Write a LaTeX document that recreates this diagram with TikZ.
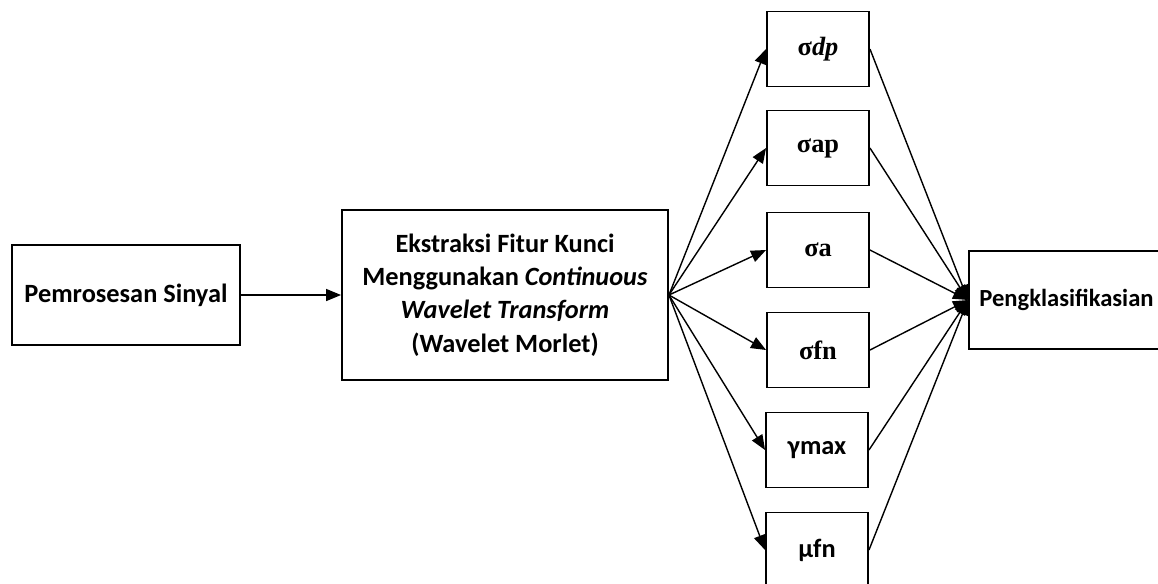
\documentclass[tikz,border=0pt]{standalone}
\usepackage{fontspec}
\setmainfont{Carlito}
\newfontfamily\greekfont{Liberation Serif}
\usetikzlibrary{arrows.meta}

\begin{document}
\begin{tikzpicture}[x = 0.02cm, y = -0.02cm,
        box/.style = {draw, black, line width = 1.1pt, inner sep = 0pt, font = \bfseries\fontsize{15}{19}\selectfont},
        featbox/.style = {box, minimum width = 2.04cm, minimum height = 1.5cm},
        link/.style = {black, line width = 0.8pt, -{Triangle[length = 0.3cm, width = 0.24cm]}}]

        \useasboundingbox (0, 0) rectangle (1158, 583);
        \clip (0, 0) rectangle (1158, 583);

        % main blocks
        \node[box, minimum width = 4.56cm, minimum height = 2cm] (sinyal) at (126, 295) {Pemrosesan Sinyal};
        \node[box, minimum width = 6.52cm, minimum height = 3.4cm, align = center] (cwt) at (505, 295)
            {Ekstraksi Fitur Kunci\\Menggunakan \textit{Continuous}\\\textit{Wavelet Transform}\\(Wavelet Morlet)};
        \node[box, font = \bfseries\fontsize{14}{17}\selectfont, minimum width = 3.9cm, minimum height = 1.95cm, anchor = west] (kelas) at (968, 300) {Pengklasifikasian};

        % feature blocks
        \node[featbox] (sdp) at (818, 49) {\greekfont σ\textit{dp}};
        \node[featbox] (sap) at (818, 148) {\greekfont σap};
        \node[featbox] (sa) at (818, 250) {\greekfont σa};
        \node[featbox] (sfn) at (818, 350) {\greekfont σfn};
        \node[featbox] (gmax) at (817, 450) {γmax};
        \node[featbox] (mfn) at (817, 550) {µfn};

        \draw[link] (sinyal) -- (cwt);

        \foreach \f in {sdp, sap, sa, sfn, gmax, mfn} {
            \draw[link] (cwt.east) -- (\f.west);
            \draw[link] (\f.east) -- (kelas.west);
        }

    \end{tikzpicture}
\end{document}
